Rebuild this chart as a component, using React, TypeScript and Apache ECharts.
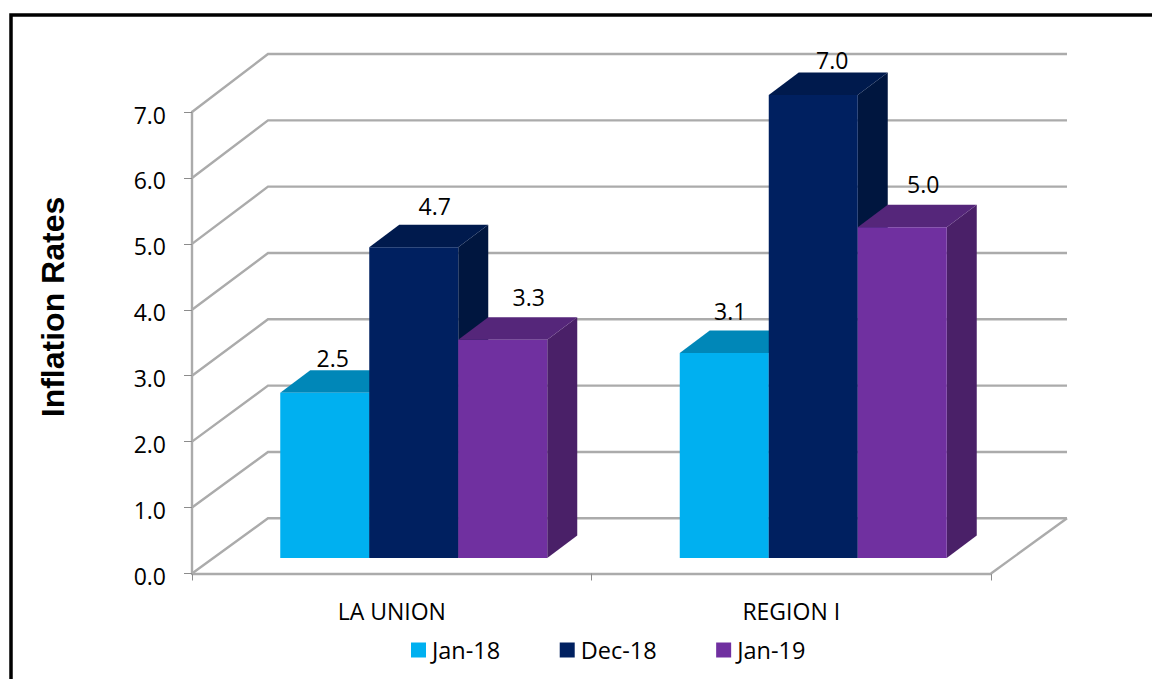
import React, { useEffect, useRef } from "react";
import * as echarts from "echarts";

const categories = ["LA UNION", "REGION I"];
const seriesNames = ["Jan-18", "Dec-18", "Jan-19"];
const jan18Values = [2.5, 3.1];
const dec18Values = [4.7, 7.0];
const jan19Values = [3.3, 5.0];
const gridValues = [0, 1, 2, 3, 4, 5, 6, 7];

// Face colours of each column: front, top, side.
const frontColors = ["#00B0F0", "#002060", "#7030A0"];
const topColors = ["#0087B8", "#001A4D", "#55267A"];
const sideColors = ["#0087B8", "#00163F", "#4A2068"];

// Data-label offsets from the top-centre of each column's front face.
const labelOffsets = [
  [[8, -35], [6, -42]],
  [[21, -41], [19, -35]],
  [[26, -43], [21, -43]],
];

// Projection of the floor and walls.
const WALL_DX = 76;
const WALL_DY_FLOOR = -55.2;
const WALL_DY_TOP = -58;
const AXIS_MAX = 7;
const COLUMN_DX = 30;
const COLUMN_DY = -22.5;
const FLOOR_INSET_DX = 22;
const FLOOR_INSET_DY = -15.5;
const COLUMN_BAND_FRACTION = 89 / 399.5;
const COLUMN_HEIGHT_SCALE = 1.003;

const LINE_COLOR = "#ABABAB";
const LINE_WIDTH = 2.4;
const FONT = "'Open Sans', sans-serif";
const TEXT_SIZE = 23;

function renderWall(params: any, api: any) {
  const v = api.value(0);
  const rect = params.coordSys;
  const y = api.coord([0, v])[1];
  const x0 = rect.x;
  const x1 = rect.x + rect.width;
  const dy = WALL_DY_FLOOR + (WALL_DY_TOP - WALL_DY_FLOOR) * (v / AXIS_MAX);
  const stroke = { stroke: LINE_COLOR, lineWidth: LINE_WIDTH, fill: "none" };
  const children: any[] = [
    {
      type: "polyline",
      shape: {
        points: [
          [x0, y],
          [x0 + WALL_DX, y + dy],
          [x1 + WALL_DX, y + dy],
        ],
      },
      style: stroke,
    },
  ];
  if (v === 0) {
    children.push({
      type: "line",
      shape: { x1, y1: y, x2: x1 + WALL_DX, y2: y + dy },
      style: stroke,
    });
  }
  return { type: "group", children };
}

function makeColumnRenderer(seriesIndex: number) {
  return (params: any, api: any) => {
    const cat = api.value(0);
    const value = api.value(1);
    const center = api.coord([cat, 0]);
    const top = api.coord([cat, value]);
    const band = api.size([1, 0])[0];
    const w = band * COLUMN_BAND_FRACTION;
    const left = center[0] + FLOOR_INSET_DX + (seriesIndex - 1.5) * w;
    const right = left + w;
    const yBase = center[1] + FLOOR_INSET_DY;
    const yTop = yBase - (center[1] - top[1]) * COLUMN_HEIGHT_SCALE;
    const [ox, oy] = labelOffsets[seriesIndex][params.dataIndex];
    return {
      type: "group",
      children: [
        {
          type: "polygon",
          shape: {
            points: [
              [right, yTop],
              [right + COLUMN_DX, yTop + COLUMN_DY],
              [right + COLUMN_DX, yBase + COLUMN_DY],
              [right, yBase],
            ],
          },
          style: { fill: sideColors[seriesIndex] },
        },
        {
          type: "polygon",
          shape: {
            points: [
              [left, yTop],
              [left + COLUMN_DX, yTop + COLUMN_DY],
              [right + COLUMN_DX, yTop + COLUMN_DY],
              [right, yTop],
            ],
          },
          style: { fill: topColors[seriesIndex] },
        },
        {
          type: "rect",
          shape: { x: left, y: yTop, width: w, height: yBase - yTop },
          style: { fill: frontColors[seriesIndex] },
        },
        {
          type: "text",
          x: left + w / 2 + ox,
          y: yTop + oy,
          style: {
            text: value.toFixed(1),
            font: `${TEXT_SIZE}px ${FONT}`,
            fill: "#000",
            align: "center",
            verticalAlign: "middle",
          },
          z2: 10,
        },
      ],
    };
  };
}

const columnValues = [jan18Values, dec18Values, jan19Values];

export default function App() {
  const ref = useRef<HTMLDivElement>(null);
  useEffect(() => {
    const chart = echarts.init(ref.current!, undefined, { renderer: "svg" });
    chart.setOption({
      animation: false,
      backgroundColor: "#fff",
      grid: { left: 192, top: 112, width: 799, height: 461.5, containLabel: false },
      xAxis: {
        type: "category",
        data: categories,
        axisLine: { show: true, lineStyle: { color: LINE_COLOR, width: LINE_WIDTH } },
        axisTick: { show: true, length: 7, lineStyle: { color: "#8C8C8C", width: 1 } },
        axisLabel: { color: "#000", fontFamily: FONT, fontSize: TEXT_SIZE, margin: 26 },
      },
      yAxis: {
        type: "value",
        min: 0,
        max: AXIS_MAX,
        interval: 1,
        axisLine: { show: true, lineStyle: { color: LINE_COLOR, width: LINE_WIDTH } },
        axisTick: { show: true, length: 8, lineStyle: { color: "#8C8C8C", width: 1 } },
        splitLine: { show: false },
        axisLabel: {
          margin: 26,
          formatter: (v: number) => `{tick|${v.toFixed(1)}}`,
          rich: {
            // Top padding drops the tick labels slightly below their ticks.
            tick: {
              color: "#000",
              fontFamily: FONT,
              fontSize: TEXT_SIZE,
              padding: [5, 0, 0, 0],
            },
          },
        },
      },
      legend: {
        data: seriesNames,
        left: 411,
        top: 638,
        padding: 0,
        itemWidth: 15,
        itemHeight: 15,
        itemGap: 59.5,
        icon: "rect",
        textStyle: { color: "#000", fontFamily: FONT, fontSize: 23.5, padding: [0, 0, 0, 1] },
      },
      series: [
        {
          type: "custom",
          name: "walls",
          renderItem: renderWall,
          data: gridValues.map((v) => [v]),
          encode: { y: 0 },
          silent: true,
          z: 1,
        },
        ...seriesNames.map((name, i) => ({
          type: "custom",
          name,
          renderItem: makeColumnRenderer(i),
          data: columnValues[i].map((v, c) => [c, v]),
          encode: { x: 0, y: 1 },
          itemStyle: { color: frontColors[i] },
          z: 2 + i,
        })),
      ],
      graphic: [
        {
          type: "rect",
          shape: { x: 11, y: 15, width: 1160, height: 700 },
          style: { fill: "none", stroke: "#000", lineWidth: 3.5 },
          silent: true,
        },
        {
          type: "text",
          x: 53,
          y: 307,
          rotation: Math.PI / 2,
          style: {
            text: "Inflation Rates",
            font: "bold 32px 'Liberation Sans', Arial, sans-serif",
            fill: "#000",
            align: "center",
            verticalAlign: "middle",
          },
          silent: true,
        },
      ],
    });
    return () => chart.dispose();
  }, []);
  return (
    <div
      ref={ref}
      style={{ position: "fixed", left: 0, top: 0, width: 1152, height: 679 }}
    />
  );
}
